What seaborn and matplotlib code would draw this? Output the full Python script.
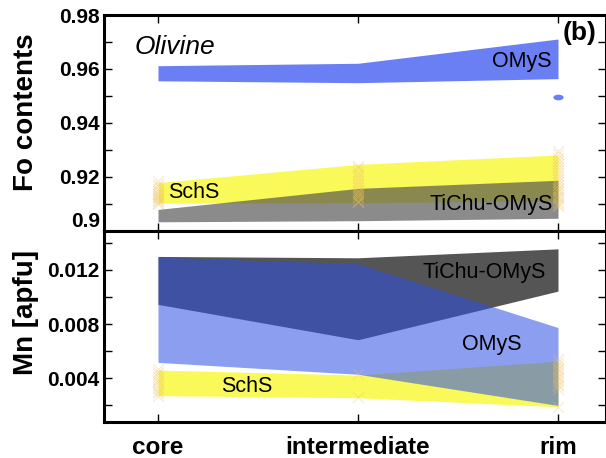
import numpy as np
import pandas as pd
import matplotlib
matplotlib.use("Agg")
import matplotlib.pyplot as plt
import seaborn as sns
from matplotlib.path import Path
from matplotlib.transforms import Affine2D

# zoning positions in the olivine grains
stages = ["core", "intermediate", "rim"]
xpos = [0, 1, 2]

# Fo contents: min / max envelopes per suite
omys_fo_low = [0.9556, 0.9549, 0.9564]
omys_fo_high = [0.9612, 0.9621, 0.9711]
omys_fo_outlier = [0.9496]          # single rim analysis
schs_fo_low = [0.9102, 0.9104, 0.9110]
schs_fo_high = [0.9178, 0.9246, 0.9281]
tichu_fo_low = [0.9033, 0.9037, 0.9046]
tichu_fo_high = [0.9079, 0.9157, 0.9187]

# Mn [apfu]: min / max envelopes per suite
omys_mn_low = [0.00518, 0.00430, 0.00200]
omys_mn_high = [0.01295, 0.01246, 0.00775]
schs_mn_low = [0.00272, 0.00257, 0.00190]
schs_mn_high = [0.00461, 0.00424, 0.00527]
tichu_mn_low = [0.00946, 0.00685, 0.01044]
tichu_mn_high = [0.01300, 0.01290, 0.01356]

# SchS single analyses
schs_fo_core = [0.9098, 0.9104, 0.9110, 0.9115, 0.9120, 0.9125, 0.9130, 0.9135,
                0.9140, 0.9146, 0.9154, 0.9164, 0.9174, 0.9183]
schs_fo_int = [0.9105, 0.9112, 0.9120, 0.9128, 0.9135, 0.9143, 0.9152, 0.9162,
               0.9173, 0.9184, 0.9195, 0.9207, 0.9219, 0.9231, 0.9240]
schs_fo_rim = [0.9090, 0.9098, 0.9107, 0.9116, 0.9124, 0.9133, 0.9142, 0.9151,
               0.9160, 0.9171, 0.9182, 0.9193, 0.9204, 0.9215, 0.9226, 0.9237,
               0.9248, 0.9259, 0.9271, 0.9283, 0.9294]
schs_mn_core = [0.0027, 0.0029, 0.0031, 0.0033, 0.0035, 0.0037, 0.0039, 0.0041,
                0.0043, 0.0045, 0.0047]
schs_mn_int = [0.0026, 0.0043]
schs_mn_rim = [0.0019, 0.0032, 0.0034, 0.0036, 0.0038, 0.0040, 0.0042, 0.0044,
               0.0046, 0.0048, 0.0050, 0.0052, 0.0054]


def points(core, inter, rim):
    return pd.DataFrame({
        "pos": [0] * len(core) + [1] * len(inter) + [2] * len(rim),
        "val": core + inter + rim,
    })


schs_fo_pts = points(schs_fo_core, schs_fo_int, schs_fo_rim)
schs_mn_pts = points(schs_mn_core, schs_mn_int, schs_mn_rim)
outlier = pd.DataFrame({"pos": [2], "val": omys_fo_outlier})

sns.set_style("ticks", {"axes.edgecolor": "black", "xtick.color": "black",
                        "ytick.color": "black", "text.color": "black",
                        "axes.labelcolor": "black"})
plt.rcParams["font.family"] = ["Liberation Sans", "DejaVu Sans"]

fig = plt.figure(figsize=(6.06, 4.58), dpi=100)
gs = fig.add_gridspec(2, 1, height_ratios=[215.7, 191], hspace=0,
                      left=0.1716, right=1.0, top=0.9672, bottom=0.0793)
ax1 = fig.add_subplot(gs[0])
ax2 = fig.add_subplot(gs[1], sharex=ax1)

blue_top = "#6b7ff5"
yellow = "#f9f95a"
mark_col = "#f0c46a"

# --- Fo contents ---
ax1.fill_between(xpos, omys_fo_low, omys_fo_high, color=blue_top, lw=0, zorder=2)
ax1.fill_between(xpos, schs_fo_low, schs_fo_high, color=yellow, lw=0, zorder=2)
ax1.fill_between(xpos, tichu_fo_low, tichu_fo_high, color="#4a4a4a", alpha=0.64,
                 lw=0, zorder=3)
sns.scatterplot(data=schs_fo_pts, x="pos", y="val", ax=ax1, marker="x",
                color=mark_col, alpha=0.4, s=60, linewidth=0.7, zorder=4,
                legend=False)
ellipse = Path.unit_circle().transformed(Affine2D().scale(1.0, 0.55))
sns.scatterplot(data=outlier, x="pos", y="val", ax=ax1, marker=ellipse,
                color=blue_top, s=55, linewidth=0, zorder=4, legend=False)

ax1.text(-0.115, 0.9681, "Olivine", fontsize=19, style="italic", ha="left",
         va="center")
ax1.text(2.11, 0.9733, "(b)", fontsize=19, fontweight="bold", ha="center",
         va="center")
ax1.text(1.82, 0.9629, "OMyS", fontsize=15.5, ha="center", va="center", zorder=5)
ax1.text(0.18, 0.9143, "SchS", fontsize=15.5, ha="center", va="center", zorder=5)
ax1.text(1.668, 0.9099, "TiChu-OMyS", fontsize=15.5, ha="center", va="center",
         zorder=5)

ax1.set_ylim(0.9, 0.98)
fo_ticks = [0.9, 0.92, 0.94, 0.96, 0.98]
ax1.set_yticks(fo_ticks, ["0.9", "0.92", "0.94", "0.96", "0.98"])
ax1.set_yticks([0.91, 0.93, 0.95, 0.97], minor=True)
for lbl in ax1.get_yticklabels():
    if lbl.get_text() == "0.9":
        lbl.set_va("bottom")
ax1.set_ylabel("Fo contents", fontsize=20, fontweight="bold")
ax1.yaxis.set_label_coords(-0.13, 0.55)
ax1.tick_params(axis="x", labelbottom=False)

# --- Mn ---
ax2.fill_between(xpos, tichu_mn_low, tichu_mn_high, color="#555555", lw=0, zorder=2)
ax2.fill_between(xpos, schs_mn_low, schs_mn_high, color=yellow, lw=0, zorder=2)
ax2.fill_between(xpos, omys_mn_low, omys_mn_high, color="#2e4fe4", alpha=0.55,
                 lw=0, zorder=3)
sns.scatterplot(data=schs_mn_pts, x="pos", y="val", ax=ax2, marker="x",
                color=mark_col, alpha=0.4, s=60, linewidth=0.7, zorder=4,
                legend=False)

ax2.text(1.63, 0.01185, "TiChu-OMyS", fontsize=15.5, ha="center", va="center",
         zorder=5)
ax2.text(1.67, 0.00652, "OMyS", fontsize=15.5, ha="center", va="center", zorder=5)
ax2.text(0.443, 0.00343, "SchS", fontsize=15.5, ha="center", va="center", zorder=5)

ax2.set_ylim(0.0008, 0.0149)
ax2.set_yticks([0.004, 0.008, 0.012], ["0.004", "0.008", "0.012"])
ax2.set_yticks([0.002, 0.006, 0.010, 0.014], minor=True)
ax2.set_ylabel("Mn [apfu]", fontsize=20, fontweight="bold")
ax2.yaxis.set_label_coords(-0.13, 0.57)

ax2.set_xlim(-0.27, 2.24)
ax2.set_xticks(xpos, stages)
ax2.set_xlabel("")

for ax in (ax1, ax2):
    for sp in ax.spines.values():
        sp.set_linewidth(2.2)
        sp.set_color("black")
        sp.set_visible(True)
    ax.tick_params(which="both", direction="in", top=True, right=True,
                   length=6, width=1, labelsize=15, pad=3, colors="black")
    for lbl in ax.get_yticklabels():
        lbl.set_fontweight("bold")
ax1.set_xlabel("")
ax2.tick_params(axis="x", labelsize=17.5, pad=10)
for lbl in ax2.get_xticklabels():
    lbl.set_fontweight("bold")

fig.savefig("out.png", dpi=100)
